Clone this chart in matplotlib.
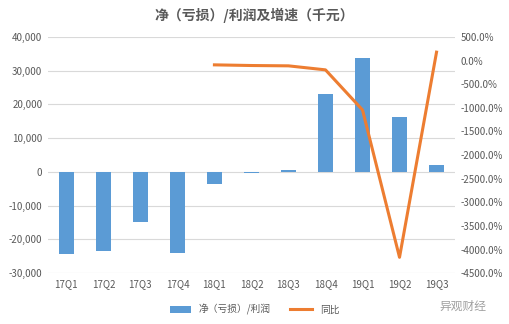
import matplotlib.pyplot as plt
import numpy as np

plt.rcParams['font.family'] = ['Noto Sans CJK SC', 'DejaVu Sans']

quarters = ['17Q1', '17Q2', '17Q3', '17Q4', '18Q1', '18Q2', '18Q3', '18Q4', '19Q1', '19Q2', '19Q3']
profit = [-24400, -23400, -14800, -24100, -3650, -300, 500, 23000, 33700, 16300, 2000]
# yoy growth (%), only from 18Q1
yoy_quarters = ['18Q1', '18Q2', '18Q3', '18Q4', '19Q1', '19Q2', '19Q3']
yoy = [-91, -105, -112, -197, -1045, -4165, 178]

grey = '#595959'
fig = plt.figure(figsize=(5.09, 3.24), dpi=100)
ax = fig.add_axes([0.094, 0.157, 0.80, 0.729])

x = np.arange(len(quarters))
ax.bar(x, profit, width=0.4, color='#5B9BD5', label='净（亏损）/利润', zorder=2)
ax.set_ylim(-30000, 40000)
ax.set_yticks(np.arange(-30000, 40001, 10000))
ax.set_yticklabels(['{:,}'.format(v) for v in range(-30000, 40001, 10000)])
ax.set_xlim(-0.5, len(quarters) - 0.5)
ax.set_xticks(x)
ax.set_xticklabels(quarters)
ax.grid(axis='y', color='#D9D9D9', linewidth=0.8, zorder=0)
ax.set_axisbelow(True)
for s in ax.spines.values():
    s.set_visible(False)
ax.tick_params(length=0, labelsize=7, colors=grey, pad=4)

ax2 = ax.twinx()
xi = [quarters.index(q) for q in yoy_quarters]
ax2.plot(xi, yoy, color='#ED7D31', linewidth=2.2, label='同比', zorder=3)
ax2.set_ylim(-4500, 500)
ax2.set_yticks(np.arange(-4500, 501, 500))
ax2.set_yticklabels(['{:.1f}%'.format(v) for v in range(-4500, 501, 500)])
for s in ax2.spines.values():
    s.set_visible(False)
ax2.tick_params(length=0, labelsize=7, colors=grey, pad=4)

fig.suptitle('净（亏损）/利润及增速（千元）', x=0.5, y=0.975, fontsize=10,
             fontweight='bold', color=grey)

h1, l1 = ax.get_legend_handles_labels()
h2, l2 = ax2.get_legend_handles_labels()
fig.legend(h1 + h2, l1 + l2, loc='lower center', bbox_to_anchor=(0.5, 0.0),
           ncol=2, frameon=False, fontsize=7, labelcolor=grey,
           handlelength=2.2, columnspacing=2.0)

fig.text(0.955, 0.045, '异观财经', fontsize=8.5, color='#A0A0A0', ha='right')

fig.savefig('out.png', dpi=100)
